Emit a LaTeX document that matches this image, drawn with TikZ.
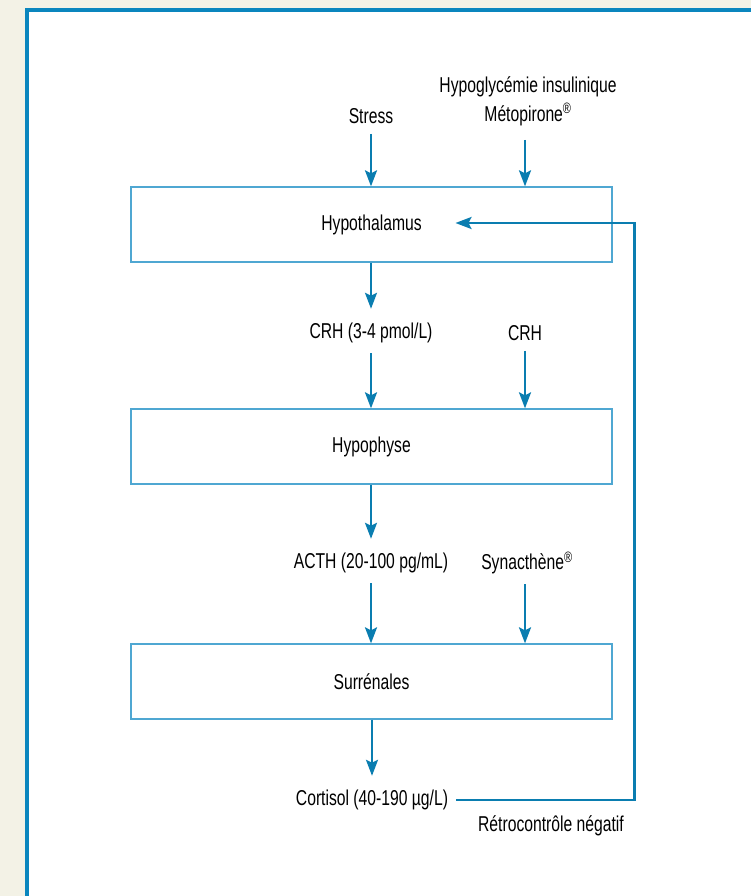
\documentclass[tikz,border=0pt]{standalone}
\usepackage{fontspec}
\setmainfont{Liberation Sans}[FakeStretch=0.73]
\usetikzlibrary{positioning,arrows.meta,calc}
\definecolor{flowblue}{HTML}{0A7DB0}
\definecolor{boxblue}{HTML}{4FA7D2}
\definecolor{panelblue}{HTML}{0A86BE}
\definecolor{cream}{HTML}{F3F2E6}

\begin{document}
\begin{tikzpicture}[
  x=1pt, y=-1pt,
  box/.style={draw=boxblue, line width=1.3pt, minimum width=481pt, minimum height=75pt, font=\fontsize{21.5}{24}\selectfont},
  lab/.style={align=center, font=\fontsize{21.5}{29}\selectfont, inner sep=2pt},
  arr/.style={-{Stealth[length=16pt,width=12pt,inset=3pt]}, line width=2.4pt, draw=flowblue}
]
\useasboundingbox (0,0) rectangle (751,896);
% background and panel
\fill[cream] (0,0) rectangle (751,896);
\fill[white] (25,8) rectangle (751,896);
\draw[panelblue, line width=4pt] (26.5,896) -- (26.5,10) -- (751,10);

% boxes
\node[box] (hypothal) at (371.5,224.5) {Hypothalamus};
\node[box] (hypoph) at (371.5,446.5) {Hypophyse};
\node[box] (surren) at (371.5,681.5) {Surrénales};

% labels
\node[lab] (stress) at (371,116) {Stress};
\node[lab] (hypogly) at (528,101) {Hypoglycémie insulinique\\Métopirone\textsuperscript{®}};
\node[lab] (crhdose) at (371,333) {CRH (3-4 pmol/L)};
\node[lab] (crh) at (525,333) {CRH};
\node[lab] (acth) at (371,563) {ACTH (20-100 pg/mL)};
\node[lab] (synac) at (527,563) {Synacthène\textsuperscript{®}};
\node[lab] (cortisol) at (372,800) {Cortisol (40-190 µg/L)};
\node[lab] (retro) at (551,826) {Rétrocontrôle négatif};

% arrows
\draw[arr] (stress.south) ++(0,8) -- (stress |- hypothal.north);
\draw[arr] (525,140) coordinate (hypoglyend) -- (hypoglyend |- hypothal.north);
\draw[arr] (hypothal.south -| crhdose) -- ([yshift=12pt]crhdose.north);
\draw[arr] ([yshift=-8pt]crhdose.south) -- (crhdose |- hypoph.north);
\draw[arr] ([yshift=-8pt]crh.south) -- (crh |- hypoph.north);
\draw[arr] (hypoph.south -| acth) -- ([yshift=12pt]acth.north);
\draw[arr] ([yshift=-8pt]acth.south) -- (acth |- surren.north);
\draw[arr] ([yshift=-8pt]synac.south -| crh) -- (crh |- surren.north);
\draw[arr] (surren.south -| cortisol) -- ([yshift=12pt]cortisol.north);
\draw[arr] ([xshift=6pt]cortisol.east) -| ([xshift=22pt]hypothal.east |- 0,223) -- ($(hypothal.center)+(84,-1.5)$);
\end{tikzpicture}
\end{document}
